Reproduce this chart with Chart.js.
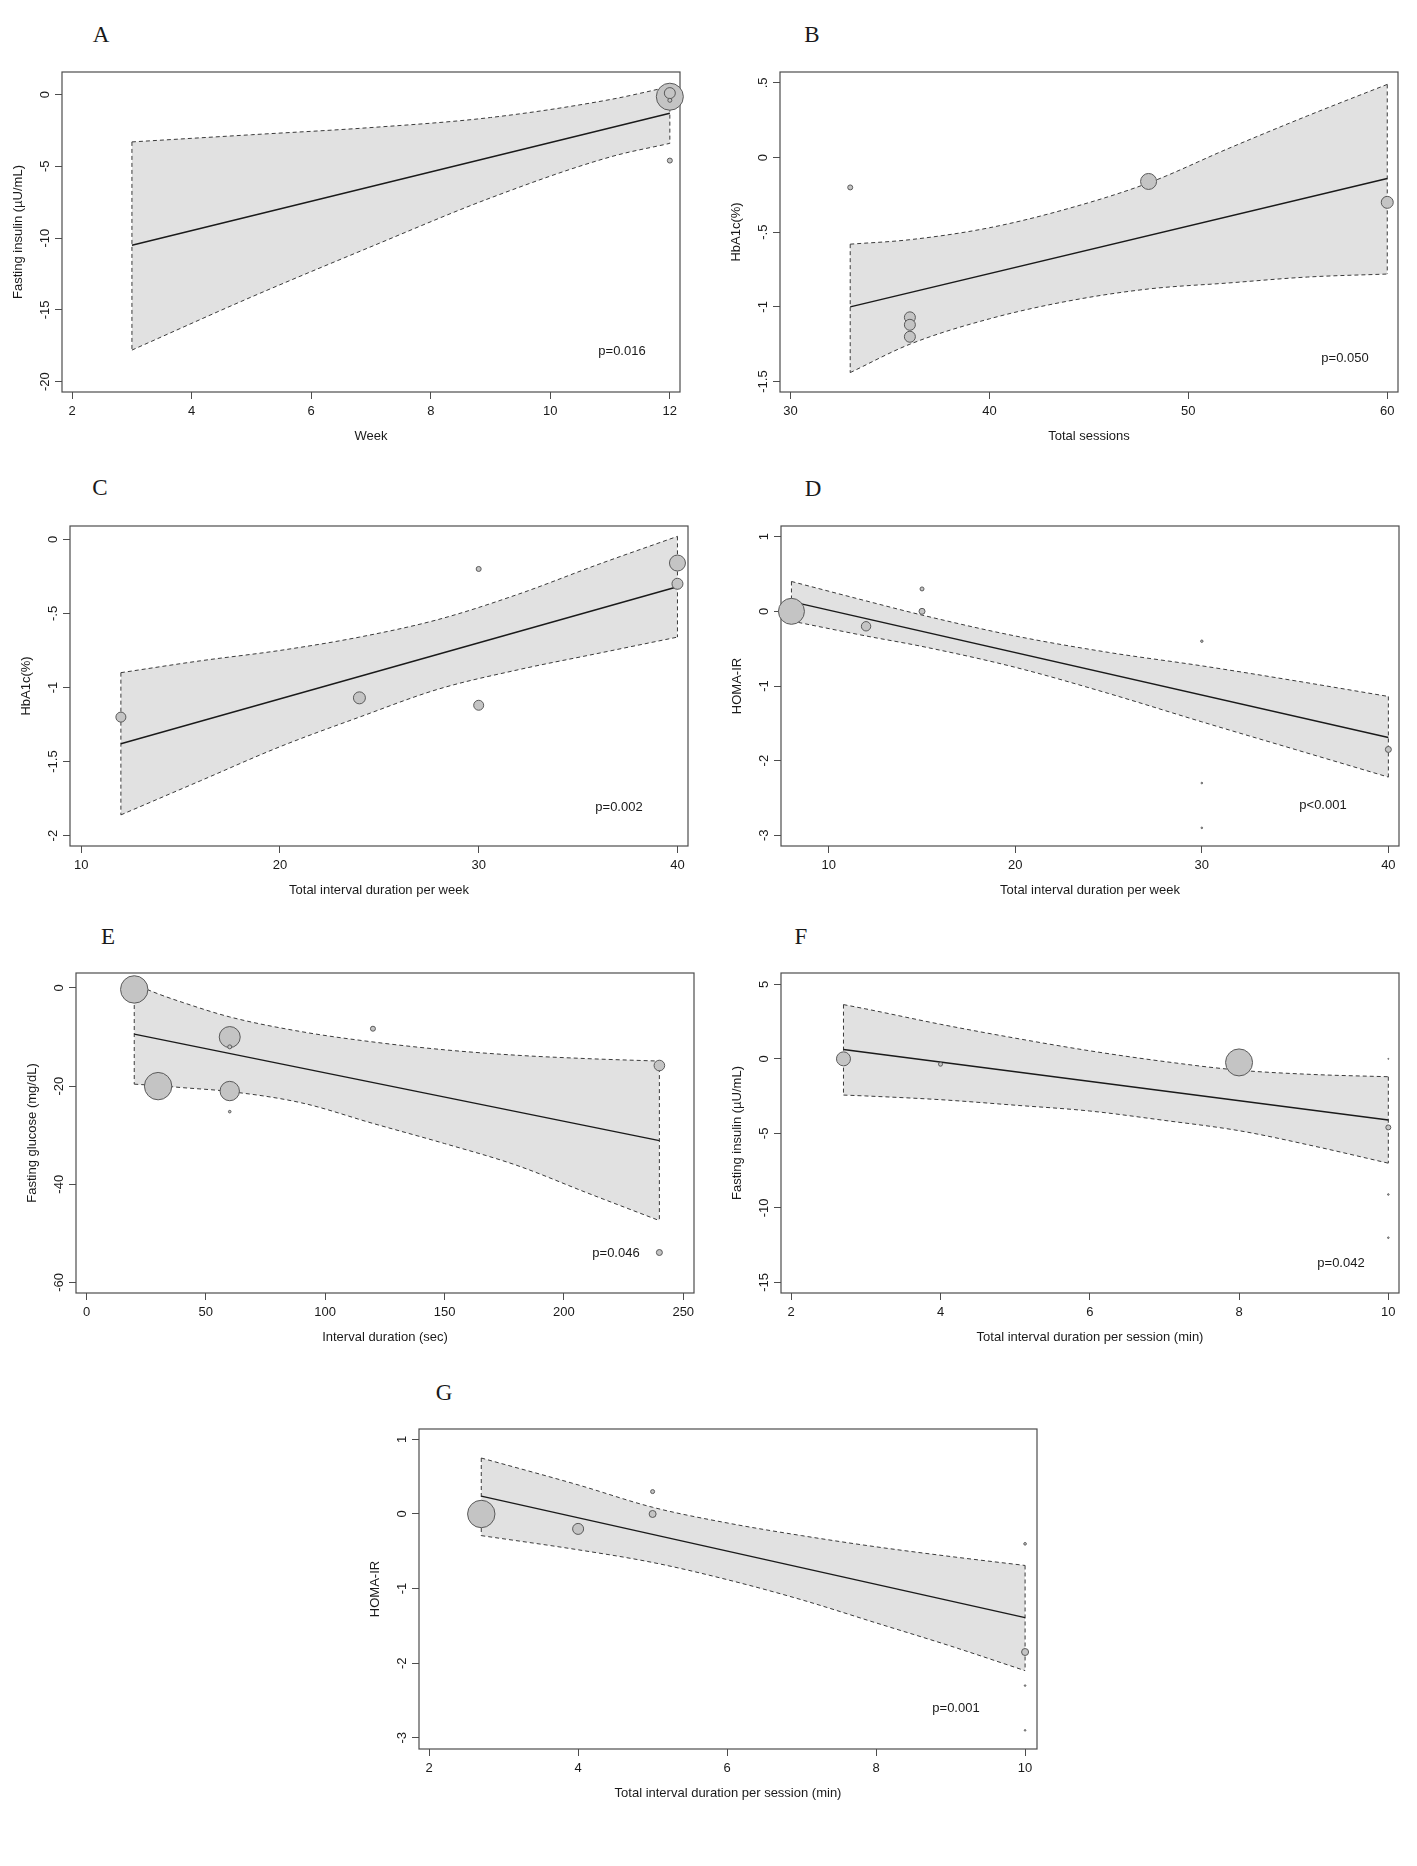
<!DOCTYPE html>
<html lang="en">
<head>
<meta charset="UTF-8">
<title>Meta-regression bubble plots</title>
<script src="https://cdn.jsdelivr.net/npm/chart.js@4.4.1/dist/chart.umd.min.js"></script>
<style>
    * { margin: 0; padding: 0; box-sizing: border-box; }
    body {
        width: 1417px; height: 1866px; position: relative; overflow: hidden;
        background: #fff; color: #1a1a1a;
        font-family: 'Liberation Sans', Arial, sans-serif;
    }
    canvas { position: absolute; }
    .letter {
        position: absolute; transform: translate(-50%, -50%);
        font-family: 'Liberation Serif', 'DejaVu Serif', serif; font-size: 23px;
    }
    .pval {
        position: absolute; transform: translate(-50%, -50%);
        font-size: 13px; white-space: nowrap;
    }
</style>
</head>
<body>
<script>
// ---- A: fasting insulin vs week
const aXTicks = [2, 4, 6, 8, 10, 12];
const aXLabels = ['2', '4', '6', '8', '10', '12'];
const aYTicks = [0, -5, -10, -15, -20];
const aYLabels = ['0', '-5', '-10', '-15', '-20'];
const aBandX = [3, 5, 7, 9, 11, 12];
const aUpper = [-3.3, -2.8, -2.3, -1.6, -0.35, 0.55];
const aLower = [-17.8, -14.1, -10.6, -7.2, -4.35, -3.4];
const aFitX = [3, 12];
const aFitY = [-10.5, -1.3];
const aPtX = [12, 12, 12, 12];
const aPtY = [-0.15, 0.1, -0.4, -4.6];
const aPtW = [13.5, 5.5, 2, 2.5];

// ---- B: HbA1c vs total sessions
const bXTicks = [30, 40, 50, 60];
const bXLabels = ['30', '40', '50', '60'];
const bYTicks = [0.5, 0, -0.5, -1, -1.5];
const bYLabels = ['.5', '0', '-.5', '-1', '-1.5'];
const bBandX = [33, 36, 40, 44, 48, 52, 56, 60];
const bUpper = [-0.58, -0.55, -0.47, -0.34, -0.17, 0.06, 0.28, 0.49];
const bLower = [-1.44, -1.25, -1.08, -0.96, -0.88, -0.84, -0.80, -0.78];
const bFitX = [33, 60];
const bFitY = [-1.0, -0.14];
const bPtX = [33, 36, 36, 36, 48, 60];
const bPtY = [-0.2, -1.07, -1.12, -1.2, -0.16, -0.3];
const bPtW = [2.5, 5.5, 5.5, 5.5, 8, 6];

// ---- C: HbA1c vs interval duration per week
const cXTicks = [10, 20, 30, 40];
const cXLabels = ['10', '20', '30', '40'];
const cYTicks = [0, -0.5, -1, -1.5, -2];
const cYLabels = ['0', '-.5', '-1', '-1.5', '-2'];
const cBandX = [12, 16, 20, 24, 28, 32, 36, 40];
const cUpper = [-0.90, -0.82, -0.75, -0.66, -0.54, -0.37, -0.17, 0.02];
const cLower = [-1.86, -1.63, -1.40, -1.20, -1.01, -0.88, -0.77, -0.66];
const cFitX = [12, 40];
const cFitY = [-1.38, -0.32];
const cPtX = [12, 24, 30, 30, 40, 40];
const cPtY = [-1.2, -1.07, -0.2, -1.12, -0.16, -0.3];
const cPtW = [5, 6, 2.5, 5, 8, 5.5];

// ---- D: HOMA-IR vs interval duration per week
const dXTicks = [10, 20, 30, 40];
const dXLabels = ['10', '20', '30', '40'];
const dYTicks = [1, 0, -1, -2, -3];
const dYLabels = ['1', '0', '-1', '-2', '-3'];
const dBandX = [8, 12, 15, 20, 25, 30, 35, 40];
const dUpper = [0.40, 0.14, -0.05, -0.33, -0.55, -0.73, -0.93, -1.14];
const dLower = [-0.13, -0.33, -0.47, -0.75, -1.10, -1.48, -1.85, -2.22];
const dFitX = [8, 40];
const dFitY = [0.13, -1.69];
const dPtX = [8, 12, 15, 15, 30, 30, 30, 40];
const dPtY = [0, -0.2, 0.3, 0, -0.4, -2.3, -2.9, -1.85];
const dPtW = [13, 4.7, 2, 3, 1.2, 0.8, 0.8, 3];

// ---- E: fasting glucose vs interval duration
const eXTicks = [0, 50, 100, 150, 200, 250];
const eXLabels = ['0', '50', '100', '150', '200', '250'];
const eYTicks = [0, -20, -40, -60];
const eYLabels = ['0', '-20', '-40', '-60'];
const eBandX = [20, 30, 40, 60, 90, 120, 150, 180, 210, 240];
const eUpper = [0.8, -1.2, -2.9, -5.9, -8.9, -11.0, -12.6, -13.7, -14.4, -14.9];
const eLower = [-19.6, -19.9, -20.3, -21.1, -23.4, -27.6, -31.7, -36.1, -41.8, -47.4];
const eFitX = [20, 240];
const eFitY = [-9.4, -31.1];
const ePtX = [20, 30, 60, 60, 60, 60, 120, 240, 240];
const ePtY = [-0.3, -20, -10, -12, -21, -25.2, -8.3, -15.8, -53.9];
const ePtW = [13.7, 13.7, 10.5, 2, 9.7, 1.3, 2.5, 5.3, 3];

// ---- F: fasting insulin vs interval duration per session
const fXTicks = [2, 4, 6, 8, 10];
const fXLabels = ['2', '4', '6', '8', '10'];
const fYTicks = [5, 0, -5, -10, -15];
const fYLabels = ['5', '0', '-5', '-10', '-15'];
const fBandX = [2.7, 3, 4, 5, 6, 7, 8, 9, 10];
const fUpper = [3.64, 3.35, 2.32, 1.39, 0.54, -0.18, -0.76, -1.05, -1.2];
const fLower = [-2.43, -2.49, -2.74, -3.11, -3.50, -4.13, -4.82, -5.85, -7.0];
const fFitX = [2.7, 10];
const fFitY = [0.63, -4.1];
const fPtX = [2.7, 4, 8, 10, 10, 10, 10];
const fPtY = [0, -0.36, -0.24, -4.6, 0, -9.1, -12];
const fPtW = [7, 2, 13.5, 2.5, 0.5, 0.8, 0.8];

// ---- G: HOMA-IR vs interval duration per session
const gXTicks = [2, 4, 6, 8, 10];
const gXLabels = ['2', '4', '6', '8', '10'];
const gYTicks = [1, 0, -1, -2, -3];
const gYLabels = ['1', '0', '-1', '-2', '-3'];
const gBandX = [2.7, 4, 5, 6, 7, 8, 9, 10];
const gUpper = [0.75, 0.39, 0.09, -0.12, -0.29, -0.44, -0.57, -0.69];
const gLower = [-0.29, -0.48, -0.65, -0.88, -1.15, -1.46, -1.77, -2.10];
const gFitX = [2.7, 10];
const gFitY = [0.24, -1.39];
const gPtX = [2.7, 4, 5, 5, 10, 10, 10, 10];
const gPtY = [0, -0.2, 0.3, 0, -0.4, -1.85, -2.3, -2.9];
const gPtW = [13.7, 5.5, 2, 3.5, 1.3, 3.5, 0.8, 0.8];

// plot box geometry (page pixels)
const PLOT_W = 618, PLOT_H = 320;
const Y_AXIS = 58, X_AXIS = 58, PAD_T = 14, PAD_R = 26;
const FONT = "'Liberation Sans', Arial, sans-serif";
const INK = '#1a1a1a';

const panels = [
    { letter: 'A', left: 62, top: 72, x: [1.83, 12.17], y: [-20.72, 1.57],
      xTicks: aXTicks, xLabels: aXLabels, yTicks: aYTicks, yLabels: aYLabels,
      bandX: aBandX, upper: aUpper, lower: aLower, fitX: aFitX, fitY: aFitY,
      ptX: aPtX, ptY: aPtY, ptW: aPtW,
      xTitle: 'Week', yTitle: 'Fasting insulin (µU/mL)',
      p: 'p=0.016', letterAt: [101, 35], pAt: [622, 350] },
    { letter: 'B', left: 780, top: 72, x: [29.47, 60.54], y: [-1.57, 0.573],
      xTicks: bXTicks, xLabels: bXLabels, yTicks: bYTicks, yLabels: bYLabels,
      bandX: bBandX, upper: bUpper, lower: bLower, fitX: bFitX, fitY: bFitY,
      ptX: bPtX, ptY: bPtY, ptW: bPtW,
      xTitle: 'Total sessions', yTitle: 'HbA1c(%)',
      p: 'p=0.050', letterAt: [812, 35], pAt: [1345, 357] },
    { letter: 'C', left: 70, top: 526, x: [9.44, 40.53], y: [-2.07, 0.09],
      xTicks: cXTicks, xLabels: cXLabels, yTicks: cYTicks, yLabels: cYLabels,
      bandX: cBandX, upper: cUpper, lower: cLower, fitX: cFitX, fitY: cFitY,
      ptX: cPtX, ptY: cPtY, ptW: cPtW,
      xTitle: 'Total interval duration per week', yTitle: 'HbA1c(%)',
      p: 'p=0.002', letterAt: [100, 488], pAt: [619, 806] },
    { letter: 'D', left: 781, top: 526, x: [7.44, 40.57], y: [-3.143, 1.143],
      xTicks: dXTicks, xLabels: dXLabels, yTicks: dYTicks, yLabels: dYLabels,
      bandX: dBandX, upper: dUpper, lower: dLower, fitX: dFitX, fitY: dFitY,
      ptX: dPtX, ptY: dPtY, ptW: dPtW,
      xTitle: 'Total interval duration per week', yTitle: 'HOMA-IR',
      p: 'p<0.001', letterAt: [813, 489], pAt: [1323, 804] },
    { letter: 'E', left: 76, top: 973, x: [-4.4, 254.5], y: [-62.15, 3.05],
      xTicks: eXTicks, xLabels: eXLabels, yTicks: eYTicks, yLabels: eYLabels,
      bandX: eBandX, upper: eUpper, lower: eLower, fitX: eFitX, fitY: eFitY,
      ptX: ePtX, ptY: ePtY, ptW: ePtW,
      xTitle: 'Interval duration (sec)', yTitle: 'Fasting glucose (mg/dL)',
      p: 'p=0.046', letterAt: [108, 937], pAt: [616, 1252] },
    { letter: 'F', left: 781, top: 973, x: [1.863, 10.143], y: [-15.71, 5.76],
      xTicks: fXTicks, xLabels: fXLabels, yTicks: fYTicks, yLabels: fYLabels,
      bandX: fBandX, upper: fUpper, lower: fLower, fitX: fFitX, fitY: fFitY,
      ptX: fPtX, ptY: fPtY, ptW: fPtW,
      xTitle: 'Total interval duration per session (min)', yTitle: 'Fasting insulin (µU/mL)',
      p: 'p=0.042', letterAt: [801, 937], pAt: [1341, 1262] },
    { letter: 'G', left: 419, top: 1429, x: [1.864, 10.16], y: [-3.15, 1.139],
      xTicks: gXTicks, xLabels: gXLabels, yTicks: gYTicks, yLabels: gYLabels,
      bandX: gBandX, upper: gUpper, lower: gLower, fitX: gFitX, fitY: gFitY,
      ptX: gPtX, ptY: gPtY, ptW: gPtW,
      xTitle: 'Total interval duration per session (min)', yTitle: 'HOMA-IR',
      p: 'p=0.001', letterAt: [444, 1393], pAt: [956, 1707] }
];

// box around the plot region plus rotated y tick labels (Stata style)
const frame = {
    id: 'frame',
    beforeDatasetsDraw(chart) {
        const { ctx, chartArea: a } = chart;
        ctx.save();
        ctx.strokeStyle = '#4d4d4d';
        ctx.lineWidth = 1.2;
        ctx.strokeRect(a.left, a.top, a.right - a.left, a.bottom - a.top);
        ctx.restore();
    },
    afterDraw(chart, args, opts) {
        const { ctx, chartArea: a } = chart;
        const ys = chart.scales.y;
        ctx.save();
        ctx.font = '13px ' + FONT;
        ctx.fillStyle = INK;
        ctx.textAlign = 'center';
        ctx.textBaseline = 'middle';
        ys.ticks.forEach((t, i) => {
            ctx.save();
            ctx.translate(a.left - 17, ys.getPixelForValue(t.value));
            ctx.rotate(-Math.PI / 2);
            ctx.fillText(opts.labels[i], 0, 0);
            ctx.restore();
        });
        ctx.restore();
    }
};

const dashed = { borderColor: '#3a3a3a', borderWidth: 1, borderDash: [4, 3], pointRadius: 0 };

function drawPanel(p) {
    const cv = document.createElement('canvas');
    cv.width = PLOT_W + Y_AXIS + PAD_R;
    cv.height = PLOT_H + PAD_T + X_AXIS;
    cv.style.left = (p.left - Y_AXIS) + 'px';
    cv.style.top = (p.top - PAD_T) + 'px';
    document.body.appendChild(cv);

    const upper = p.bandX.map((x, i) => ({ x, y: p.upper[i] }));
    const lower = p.bandX.map((x, i) => ({ x, y: p.lower[i] }));
    const last = p.bandX.length - 1;
    const fit = p.fitX.map((x, i) => ({ x, y: p.fitY[i] }));
    const pts = p.ptX.map((x, i) => ({ x, y: p.ptY[i], r: p.ptW[i] }));

    new Chart(cv, {
        type: 'scatter',
        data: {
            datasets: [
                { type: 'line', data: upper, ...dashed, cubicInterpolationMode: 'monotone',
                  fill: '+1', backgroundColor: '#e1e1e1', order: 5 },
                { type: 'line', data: lower, ...dashed, cubicInterpolationMode: 'monotone',
                  fill: false, order: 4 },
                { type: 'line', data: [upper[0], lower[0]], ...dashed, fill: false, order: 3 },
                { type: 'line', data: [upper[last], lower[last]], ...dashed, fill: false, order: 3 },
                { type: 'line', data: fit, borderColor: INK, borderWidth: 1.4, pointRadius: 0,
                  fill: false, order: 1 },
                { type: 'bubble', data: pts, backgroundColor: '#c4c4c4', borderColor: '#5a5a5a',
                  borderWidth: 1, clip: false, order: 0 }
            ]
        },
        options: {
            responsive: false,
            animation: false,
            events: [],
            layout: { autoPadding: false, padding: { top: PAD_T, right: PAD_R, left: 0, bottom: 0 } },
            plugins: { legend: { display: false }, tooltip: { enabled: false }, frame: { labels: p.yLabels } },
            scales: {
                x: {
                    type: 'linear', min: p.x[0], max: p.x[1],
                    afterBuildTicks: s => { s.ticks = p.xTicks.map(v => ({ value: v })); },
                    afterFit: s => { s.height = X_AXIS; },
                    ticks: { autoSkip: false, maxRotation: 0, padding: 5, color: INK,
                             font: { family: FONT, size: 13 },
                             callback: (v, i) => p.xLabels[i] },
                    grid: { drawOnChartArea: false, drawTicks: true, tickLength: 7, color: '#4d4d4d' },
                    border: { display: false },
                    title: { display: true, text: p.xTitle, color: INK,
                             font: { family: FONT, size: 13 }, padding: { top: 0, bottom: 6 } }
                },
                y: {
                    type: 'linear', min: p.y[0], max: p.y[1],
                    afterBuildTicks: s => { s.ticks = p.yTicks.map(v => ({ value: v })); },
                    afterFit: s => { s.width = Y_AXIS; },
                    ticks: { display: false },
                    grid: { drawOnChartArea: false, drawTicks: true, tickLength: 7, color: '#4d4d4d' },
                    border: { display: false },
                    title: { display: true, text: p.yTitle, color: INK,
                             font: { family: FONT, size: 13 }, padding: { top: 7, bottom: 0 } }
                }
            }
        },
        plugins: [frame]
    });

    const letter = document.createElement('div');
    letter.className = 'letter';
    letter.textContent = p.letter;
    letter.style.left = p.letterAt[0] + 'px';
    letter.style.top = p.letterAt[1] + 'px';
    document.body.appendChild(letter);

    const pv = document.createElement('div');
    pv.className = 'pval';
    pv.textContent = p.p;
    pv.style.left = p.pAt[0] + 'px';
    pv.style.top = p.pAt[1] + 'px';
    document.body.appendChild(pv);
}

panels.forEach(drawPanel);
</script>
</body>
</html>
